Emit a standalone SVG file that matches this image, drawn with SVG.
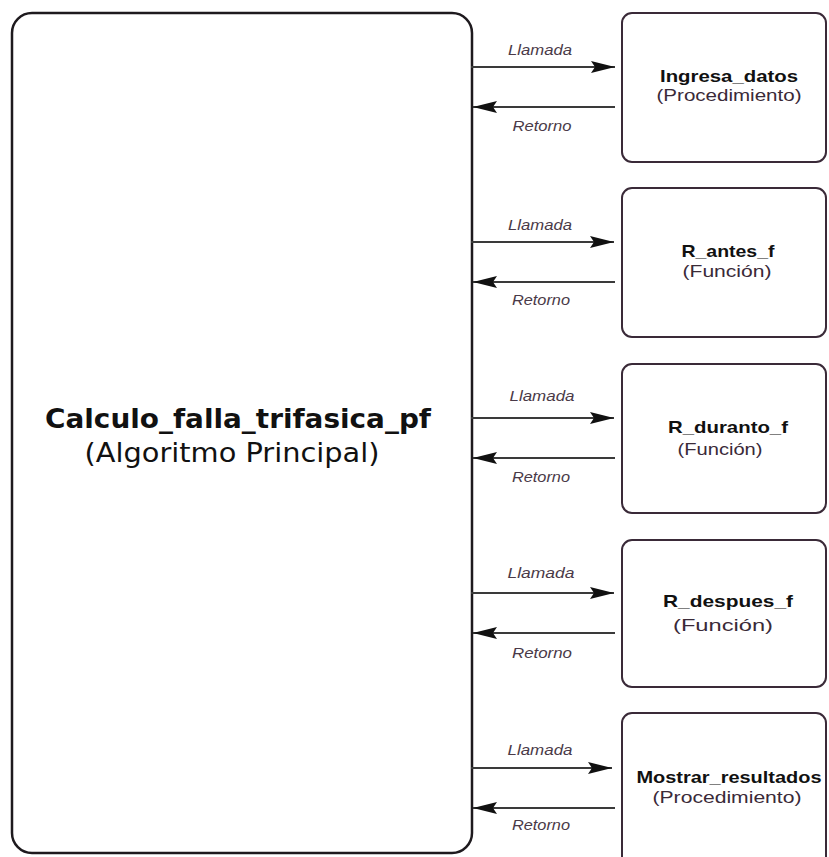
<svg xmlns="http://www.w3.org/2000/svg" width="829" height="857" viewBox="0 0 829 857">
  <style>
    .main { fill: #ffffff; stroke: #1e1a1e; stroke-width: 2.5; }
    .box { fill: #ffffff; stroke: #3a2a38; stroke-width: 2; }
    .title { font-family: "Liberation Sans", Arial, sans-serif; font-size: 17px; font-weight: bold; fill: #111111; text-anchor: middle; }
    .sub { font-family: "Liberation Sans", Arial, sans-serif; font-size: 16px; fill: #3a2a38; text-anchor: middle; }
    .lbl { font-family: "Liberation Sans", Arial, sans-serif; font-size: 15px; font-style: italic; fill: #4a3a48; text-anchor: middle; }
    .arrow { stroke: #3a3a3a; stroke-width: 2; fill: none; }
    .maintitle { font-family: "DejaVu Sans", "Open Sans", sans-serif; font-size: 26px; font-weight: bold; fill: #111111; text-anchor: middle; }
    .mainsub { font-family: "DejaVu Sans", "Open Sans", sans-serif; font-size: 26px; fill: #111111; text-anchor: middle; }
  </style>
  <defs>
    <marker id="head" viewBox="0 0 24 12" refX="24" refY="6" markerWidth="24" markerHeight="12" markerUnits="userSpaceOnUse" orient="auto">
      <path d="M0,0 L24,6 L0,12 L4,6 Z" fill="#111111"/>
    </marker>
  </defs>

  <rect width="829" height="857" fill="#ffffff"/>

  <g id="principal">
    <rect class="main" x="12" y="13" width="460" height="840" rx="20" ry="20"/>
    <text class="maintitle" x="238" y="428" textLength="386" lengthAdjust="spacingAndGlyphs">Calculo_falla_trifasica_pf</text>
    <text class="mainsub" x="232" y="462" textLength="295" lengthAdjust="spacingAndGlyphs">(Algoritmo Principal)</text>
  </g>

  <g id="ingresa_datos">
    <rect class="box" x="622" y="13" width="204" height="149" rx="10" ry="10"/>
    <text class="title" x="729" y="82" textLength="138" lengthAdjust="spacingAndGlyphs">Ingresa_datos</text>
    <text class="sub" x="729" y="101" textLength="145" lengthAdjust="spacingAndGlyphs">(Procedimiento)</text>
  </g>

  <g id="r_antes_f">
    <rect class="box" x="622" y="188" width="204" height="149" rx="10" ry="10"/>
    <text class="title" x="728" y="257" textLength="93" lengthAdjust="spacingAndGlyphs">R_antes_f</text>
    <text class="sub" x="727" y="277" textLength="89" lengthAdjust="spacingAndGlyphs">(Función)</text>
  </g>

  <g id="r_durante_f">
    <rect class="box" x="622" y="364" width="204" height="149" rx="10" ry="10"/>
    <text class="title" x="728" y="433" textLength="120" lengthAdjust="spacingAndGlyphs">R_duranto_f</text>
    <text class="sub" x="720" y="455" textLength="85" lengthAdjust="spacingAndGlyphs">(Función)</text>
  </g>

  <g id="r_despues_f">
    <rect class="box" x="622" y="540" width="204" height="147" rx="10" ry="10"/>
    <text class="title" x="728" y="607" textLength="130" lengthAdjust="spacingAndGlyphs">R_despues_f</text>
    <text class="sub" x="723" y="631" textLength="100" lengthAdjust="spacingAndGlyphs">(Función)</text>
  </g>

  <g id="mostrar_resultados">
    <rect class="box" x="622" y="713" width="204" height="160" rx="10" ry="10"/>
    <text class="title" x="729" y="783" textLength="185" lengthAdjust="spacingAndGlyphs">Mostrar_resultados</text>
    <text class="sub" x="727" y="803" textLength="149" lengthAdjust="spacingAndGlyphs">(Procedimiento)</text>
  </g>

  <g id="connectors">
    <line class="arrow" x1="471" y1="67" x2="615" y2="67" marker-end="url(#head)"/>
    <line class="arrow" x1="615" y1="107" x2="473" y2="107" marker-end="url(#head)"/>
    <line class="arrow" x1="471" y1="242" x2="614" y2="242" marker-end="url(#head)"/>
    <line class="arrow" x1="615" y1="282" x2="473" y2="282" marker-end="url(#head)"/>
    <line class="arrow" x1="471" y1="418" x2="614" y2="418" marker-end="url(#head)"/>
    <line class="arrow" x1="615" y1="458" x2="473" y2="458" marker-end="url(#head)"/>
    <line class="arrow" x1="471" y1="593" x2="614" y2="593" marker-end="url(#head)"/>
    <line class="arrow" x1="615" y1="633" x2="473" y2="633" marker-end="url(#head)"/>
    <line class="arrow" x1="471" y1="768" x2="612" y2="768" marker-end="url(#head)"/>
    <line class="arrow" x1="615" y1="808" x2="473" y2="808" marker-end="url(#head)"/>
  </g>

  <g id="labels">
    <text class="lbl" x="540" y="55" textLength="64" lengthAdjust="spacingAndGlyphs">Llamada</text>
    <text class="lbl" x="542" y="131" textLength="59" lengthAdjust="spacingAndGlyphs">Retorno</text>
    <text class="lbl" x="540" y="230" textLength="64" lengthAdjust="spacingAndGlyphs">Llamada</text>
    <text class="lbl" x="541" y="305" textLength="58" lengthAdjust="spacingAndGlyphs">Retorno</text>
    <text class="lbl" x="542" y="401" textLength="65" lengthAdjust="spacingAndGlyphs">Llamada</text>
    <text class="lbl" x="541" y="482" textLength="58" lengthAdjust="spacingAndGlyphs">Retorno</text>
    <text class="lbl" x="541" y="578" textLength="67" lengthAdjust="spacingAndGlyphs">Llamada</text>
    <text class="lbl" x="542" y="658" textLength="60" lengthAdjust="spacingAndGlyphs">Retorno</text>
    <text class="lbl" x="540" y="755" textLength="65" lengthAdjust="spacingAndGlyphs">Llamada</text>
    <text class="lbl" x="541" y="830" textLength="58" lengthAdjust="spacingAndGlyphs">Retorno</text>
  </g>
</svg>
